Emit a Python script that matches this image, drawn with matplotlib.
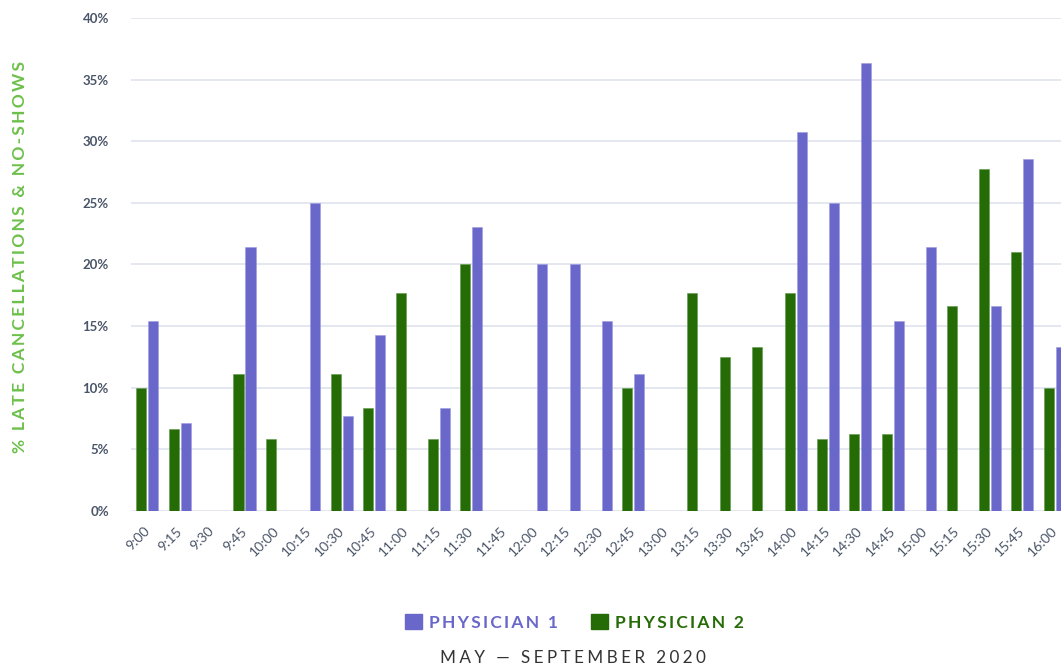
import numpy as np
import matplotlib.pyplot as plt
import matplotlib.transforms as mtransforms
from matplotlib.patches import Patch

plt.rcParams['font.family'] = ['Lato', 'DejaVu Sans']

# time slots, 15 min apart
slots = ["9:00", "9:15", "9:30", "9:45", "10:00", "10:15", "10:30", "10:45",
         "11:00", "11:15", "11:30", "11:45", "12:00", "12:15", "12:30", "12:45",
         "13:00", "13:15", "13:30", "13:45", "14:00", "14:15", "14:30", "14:45",
         "15:00", "15:15", "15:30", "15:45", "16:00"]

# % late cancellations & no-shows
physician1 = [15.38, 7.14, 0, 21.43, 0, 25.0, 7.69, 14.29,
              0, 8.33, 23.08, 0, 20.0, 20.0, 15.38, 11.11,
              0, 0, 0, 0, 30.77, 25.0, 36.36, 15.38,
              21.43, 0, 16.67, 28.57, 13.33]
physician2 = [10.0, 6.67, 0, 11.11, 5.88, 0, 11.11, 8.33,
              17.65, 5.88, 20.0, 0, 0, 0, 0, 10.0,
              0, 17.65, 12.5, 13.33, 17.65, 5.88, 6.25, 6.25,
              0, 16.67, 27.78, 21.05, 10.0]

PURPLE = "#6a67cb"
GREEN = "#256b06"
LABEL_GREEN = "#6cc04a"
TICK = "#4a5568"
GRID = "#dfe1ee"


def track(s, n=1):
    # fake letter spacing with hair spaces
    return ("\u200a" * n).join(s)


fig = plt.figure(figsize=(10.61, 6.67), dpi=100)
# axes runs a bit past the right edge, like the original (last bar is cut)
ax = fig.add_axes([0.1235, 0.2339, 0.886, 0.7391])

x = np.arange(len(slots))
w = 0.31
off = 0.185
ax.bar(x - off, physician2, w, color=GREEN, edgecolor="#5f9a4a", linewidth=0.4, zorder=3)
ax.bar(x + off, physician1, w, color=PURPLE, edgecolor="#9d9be0", linewidth=0.4, zorder=3)

ax.set_xlim(-0.5, len(slots) - 0.5)
ax.set_ylim(0, 40)
ax.set_yticks(np.arange(0, 41, 5))
ax.set_yticklabels([f"{v}%" for v in range(0, 41, 5)])
ax.set_xticks(x)
ax.set_xticklabels(slots, rotation=45, ha="right", rotation_mode="anchor")

ax.grid(axis="y", color=GRID, linewidth=1.2, zorder=0)
ax.set_axisbelow(True)
for s in ax.spines.values():
    s.set_visible(False)
ax.tick_params(axis="both", length=0, colors=TICK)
ax.tick_params(axis="y", pad=16, labelsize=9.5)
ax.tick_params(axis="x", pad=10, labelsize=10)
for lbl in ax.get_yticklabels():
    lbl.set_fontweight("bold")
# nudge rotated time labels a little to the left
shift = mtransforms.ScaledTranslation(-4 / 100, 0, fig.dpi_scale_trans)
for lbl in ax.get_xticklabels():
    lbl.set_transform(lbl.get_transform() + shift)

fig.text(0.019, 0.615, track("% LATE CANCELLATIONS & NO-SHOWS", 2), rotation=90,
         ha="center", va="center", color=LABEL_GREEN, fontsize=12.5,
         fontweight="bold")

handles = [Patch(color=PURPLE, label=track("PHYSICIAN 1", 2)),
           Patch(color=GREEN, label=track("PHYSICIAN 2", 2))]
leg = fig.legend(handles=handles, loc="center", bbox_to_anchor=(0.5415, 0.067),
                 ncol=2, frameon=False, fontsize=12.5, handlelength=1.0,
                 handleheight=1.0, handletextpad=0.4, columnspacing=1.9)
for t, c in zip(leg.get_texts(), [PURPLE, GREEN]):
    t.set_color(c)
    t.set_fontweight("bold")

fig.text(0.540, 0.0135, track("MAY \u2014 SEPTEMBER 2020", 3), ha="center", va="center",
         color="#333333", fontsize=12.3)

fig.savefig("out.png", dpi=100)
